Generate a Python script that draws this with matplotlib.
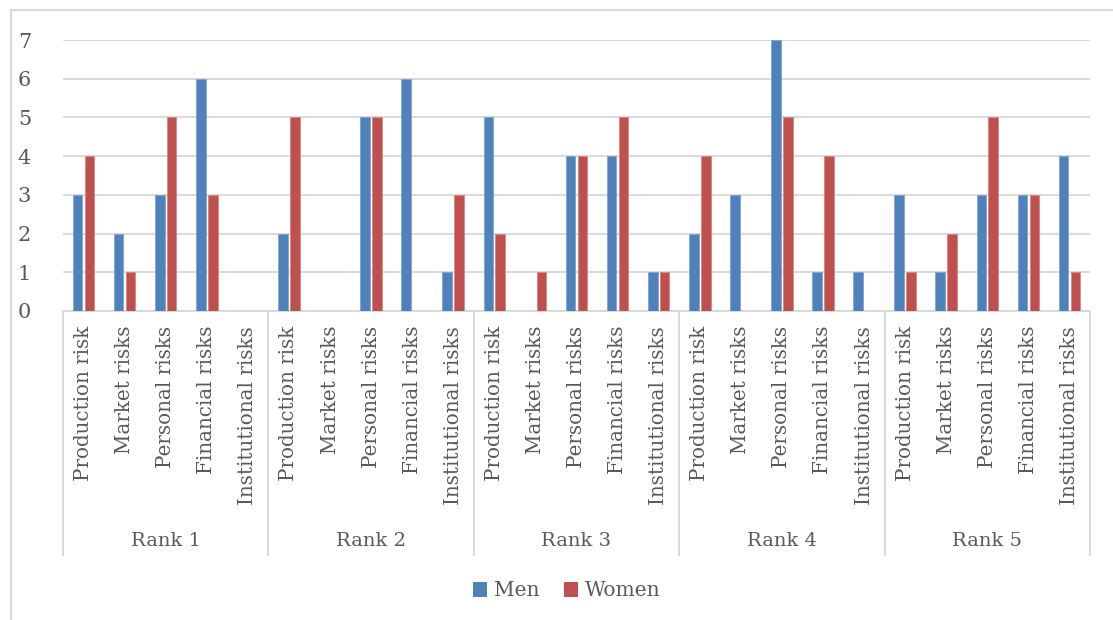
import matplotlib
matplotlib.use("Agg")
import matplotlib.pyplot as plt
from matplotlib.lines import Line2D
from matplotlib.patches import Patch
import numpy as np

ranks = ["Rank 1", "Rank 2", "Rank 3", "Rank 4", "Rank 5"]
risks = ["Production risk", "Market risks", "Personal risks",
         "Financial risks", "Institutional risks"]

men = [3, 2, 3, 6, 0,
       2, 0, 5, 6, 1,
       5, 0, 4, 4, 1,
       2, 3, 7, 1, 1,
       3, 1, 3, 3, 4]
women = [4, 1, 5, 3, 0,
         5, 0, 5, 0, 3,
         2, 1, 4, 5, 1,
         4, 0, 5, 4, 0,
         1, 2, 5, 3, 1]

BLUE = "#4F81BD"
RED = "#C0504D"
GRID = "#D9D9D9"
TEXT = "#595959"
FONT = "DejaVu Serif"

W, H = 1113, 620
fig = plt.figure(figsize=(W / 100, H / 100), dpi=100)
plt.rcParams["font.family"] = FONT

# outer chart frame
fig.add_artist(Line2D([11 / W, 11 / W], [0, 1 - 10 / H], transform=fig.transFigure,
                      color=GRID, lw=1.5))
fig.add_artist(Line2D([11 / W, 1], [1 - 10 / H, 1 - 10 / H], transform=fig.transFigure,
                      color=GRID, lw=1.5))

left, right = 63 / W, 1090 / W
bottom, top = 1 - 311 / H, 1 - 40 / H
ax = fig.add_axes([left, bottom, right - left, top - bottom])

n = len(men)
x = np.arange(n)
bw = 0.235
off = 0.145
ax.bar(x - off, men, width=bw, color=BLUE, edgecolor="#7EA3D2", linewidth=0.6, zorder=3)
ax.bar(x + off, women, width=bw, color=RED, edgecolor="#D58785", linewidth=0.6, zorder=3)

ax.set_xlim(-0.5, n - 0.5)
ax.set_ylim(0, 7)
ax.set_yticks(range(0, 8))
ax.yaxis.grid(True, color=GRID, lw=1.4, zorder=0)
ax.set_axisbelow(True)
for s in ["top", "right", "left"]:
    ax.spines[s].set_visible(False)
ax.spines["bottom"].set_color(GRID)
ax.spines["bottom"].set_linewidth(1.4)
ax.tick_params(axis="y", length=0, pad=23, labelsize=15, labelcolor=TEXT)
ax.tick_params(axis="x", length=0)
ax.set_xticks([])

# category labels (rotated) and group labels
ax_h_px = 311 - 40
def ypix(p):
    # pixel offset below the axis bottom -> axes fraction
    return -(p - 311) / ax_h_px

for i in range(n):
    ax.text(i, ypix(326), risks[i % 5], rotation=90, ha="center", va="top",
            fontsize=14.3, color=TEXT, transform=ax.get_xaxis_transform(),
            fontfamily=FONT)

for g in range(len(ranks)):
    ax.text(g * 5 + 2, ypix(541), ranks[g], ha="center", va="center",
            fontsize=14, color=TEXT, transform=ax.get_xaxis_transform(),
            fontfamily=FONT)

for g in range(len(ranks) + 1):
    xs = g * 5 - 0.5
    ax.add_line(Line2D([xs, xs], [0, ypix(555)], transform=ax.get_xaxis_transform(),
                       color=GRID, lw=1.4, clip_on=False))

handles = [Patch(facecolor=BLUE, label="Men"), Patch(facecolor=RED, label="Women")]
leg = fig.legend(handles=handles, loc="center", bbox_to_anchor=(567 / W, 1 - 591 / H),
                 ncol=2, frameon=False, fontsize=14.5, handlelength=0.7, handleheight=0.7,
                 handletextpad=0.35, columnspacing=1.2)
for t in leg.get_texts():
    t.set_color(TEXT)

fig.savefig("out.png", dpi=100)
